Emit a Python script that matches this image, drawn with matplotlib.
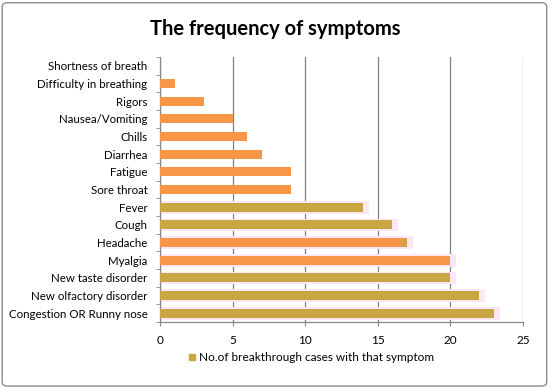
import matplotlib
matplotlib.use("Agg")
import matplotlib.pyplot as plt
from matplotlib.patches import FancyBboxPatch
from matplotlib.lines import Line2D

categories = ["Shortness of breath", "Difficulty in breathing", "Rigors", "Nausea/Vomiting",
              "Chills", "Diarrhea", "Fatigue", "Sore throat", "Fever", "Cough", "Headache",
              "Myalgia", "New taste disorder", "New olfactory disorder", "Congestion OR Runny nose"]
values = [0, 1, 3, 5, 6, 7, 9, 9, 14, 16, 17, 20, 20, 22, 23]
x_ticks = [0, 5, 10, 15, 20, 25]
legend_label = "No.of breakthrough cases with that symptom"
title = "The frequency of symptoms"

ORANGE = "#F79646"
OLIVE = "#C9A642"
PINK = "#FDE6F6"
colors = [ORANGE] * 8 + [OLIVE, OLIVE, ORANGE, ORANGE, OLIVE, OLIVE, OLIVE]
shadow = [False] * 8 + [True] * 7

plt.rcParams['font.family'] = ['Lato', 'DejaVu Sans']
fig = plt.figure(figsize=(5.5, 3.88), dpi=100)
ax = fig.add_axes([0.291, 0.170, 0.660, 0.683])

n = len(categories)
ypos = list(range(n))
for y, v, c, s in zip(ypos, values, colors, shadow):
    if s:
        ax.barh(y, v + 0.4, height=0.72, color=PINK, zorder=1, linewidth=0)
ax.barh(ypos, values, height=0.5, color=colors, zorder=3, linewidth=0)
# olive tip on headache bar (gradient effect)
hi = categories.index("Headache")
ax.barh(hi, 0.35, left=values[hi] - 0.35, height=0.5, color=OLIVE, zorder=4, linewidth=0)

ax.set_ylim(n - 0.5, -0.5)
ax.set_xlim(0, 25)
ax.set_yticks(ypos)
ax.set_yticks([i + 0.5 for i in range(-1, n)], minor=True)
ax.set_yticklabels(categories, fontsize=8.3)
ax.tick_params(axis='y', which='major', length=0, pad=9)
ax.tick_params(axis='y', which='minor', length=3, color="#888888", direction='out')
ax.set_xticks(x_ticks)
ax.set_xticklabels([str(t) for t in x_ticks], fontsize=8.5)
ax.tick_params(axis='x', length=3, color="#888888", direction='out', pad=6)
ax.grid(axis='x', color="#808080", linewidth=0.9, zorder=0)
ax.set_axisbelow(True)
for sp in ['top', 'right']:
    ax.spines[sp].set_visible(False)
for sp in ['left', 'bottom']:
    ax.spines[sp].set_color("#888888")
    ax.spines[sp].set_linewidth(0.9)

fig.text(0.5, 0.925, title, ha='center', va='center', fontsize=14.5, fontweight='bold')

handle = Line2D([], [], marker='s', linestyle='none', markersize=5, color=OLIVE)
fig.legend([handle], [legend_label], loc='center', bbox_to_anchor=(0.565, 0.078),
           frameon=False, fontsize=8.5, handletextpad=0.2, handlelength=0.8)

border = FancyBboxPatch((0.004, 0.005), 0.99, 0.988, boxstyle="round,pad=0,rounding_size=0.01",
                        transform=fig.transFigure, fill=False, edgecolor="#8c8c8c", linewidth=1.0)
fig.patches.append(border)

fig.savefig("out.png", dpi=100)
